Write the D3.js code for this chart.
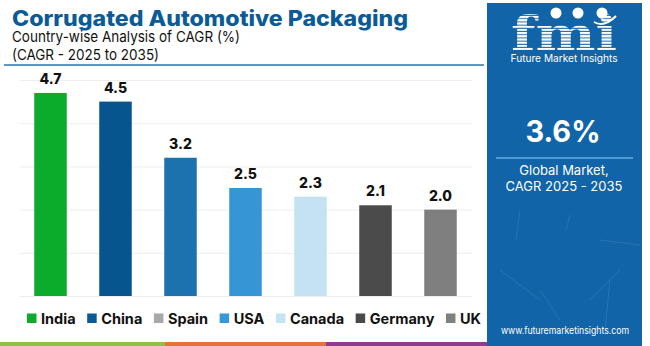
<!DOCTYPE html>
<html><head><meta charset="utf-8">
<script src="https://cdn.jsdelivr.net/npm/d3@7"></script>
<style>
html,body{margin:0;padding:0;background:#fff;}
svg{display:block;font-family:Inter, "Open Sans", sans-serif;}
</style></head>
<body><svg id="c" width="650" height="346"></svg>
<script>
const countries = ["India","China","Spain","USA","Canada","Germany","UK"];
const cagr = [4.7,4.5,3.2,2.5,2.3,2.1,2.0];
const barColors = ["#0bab2c","#06558f","#1b72ae","#3595d5","#c4e2f2","#4b4b4b","#7f7f7f"];
const legendColors = ["#0bab2c","#0a5a96","#a8a8a8","#3598d8","#c5e3f3","#4a4a4a","#808080"];
const yTicks = [1,2,3,4,5];
const titleText = "Corrugated Automotive Packaging";
const subtitle1 = "Country-wise Analysis of CAGR (%)";
const subtitle2 = "(CAGR - 2025 to 2035)";
const globalValue = "3.6%";
const globalLabel = ["Global Market,","CAGR 2025 - 2035"];

const svg = d3.select("#c");

// Title
svg.append("text").attr("x",12).attr("y",25.5)
  .attr("font-size",21).attr("font-weight",800).attr("fill","#0b5b97")
  .attr("textLength",396).attr("lengthAdjust","spacingAndGlyphs")
  .text(titleText);
svg.append("text").attr("x",12).attr("y",42).attr("font-size",15).attr("fill","#111")
  .attr("textLength",228).attr("lengthAdjust","spacingAndGlyphs").text(subtitle1);
svg.append("text").attr("x",12).attr("y",60).attr("font-size",15).attr("fill","#111")
  .attr("textLength",147).attr("lengthAdjust","spacingAndGlyphs").text(subtitle2);
svg.append("line").attr("x1",4).attr("x2",484).attr("y1",65).attr("y2",65)
  .attr("stroke","#2a73b0").attr("stroke-width",1.5);

// Scales
const x = d3.scaleBand().domain(countries).range([18,473]).paddingInner(0.5).paddingOuter(0.25);
const y = d3.scaleLinear().domain([0,5]).range([296,80]);

// gridlines
const yAxis = d3.axisLeft(y).tickValues(yTicks).tickSize(-452).tickFormat("");
const g = svg.append("g").attr("transform","translate(20,0)").call(yAxis);
g.select(".domain").remove();
g.selectAll(".tick line").attr("stroke","#eeeeee").attr("stroke-width",1);

// baseline axis
const xAxis = d3.axisBottom(x).tickSize(0).tickFormat("");
const xg = svg.append("g").attr("transform","translate(0,296.5)").call(xAxis);
xg.select(".domain").attr("d","M20,0H472").attr("stroke","#ececec");

// bars
svg.append("g").selectAll("rect").data(countries).join("rect")
  .attr("x",d=>x(d)).attr("width",x.bandwidth())
  .attr("y",(d,i)=>y(cagr[i])).attr("height",(d,i)=>y(0)-y(cagr[i]))
  .attr("fill",(d,i)=>barColors[i]);
svg.append("g").selectAll("text").data(countries).join("text")
  .attr("x",d=>x(d)+x.bandwidth()/2).attr("y",(d,i)=>y(cagr[i])-9)
  .attr("text-anchor","middle").attr("font-size",14).attr("font-weight",800).attr("fill","#111")
  .text((d,i)=>cagr[i].toFixed(1));

// legend
const lg = svg.append("g");
const items = lg.selectAll("g").data(countries).join("g");
items.append("rect").attr("width",9.5).attr("height",9.5).attr("y",313.5)
  .attr("fill",(d,i)=>legendColors[i]);
items.append("text").attr("x",14).attr("y",323.5).attr("font-size",14.5).attr("font-weight",700)
  .attr("fill","#111").text(d=>d);
const widths = [];
items.each(function(){ widths.push(14 + d3.select(this).select("text").node().getComputedTextLength()); });
const totalW = d3.sum(widths);
const gap = (481 - 27 - totalW)/(countries.length-1);
let cx = 27;
items.each(function(d,i){ d3.select(this).attr("transform",`translate(${cx},0)`); cx += widths[i]+gap; });

// bottom stripe
const stripe = [["#8bc34a",0,165],["#e8703a",165,326],["#8e3a96",326,487]];
svg.append("g").selectAll("rect").data(stripe).join("rect")
  .attr("x",d=>d[1]).attr("width",d=>d[2]-d[1]).attr("y",342).attr("height",4).attr("fill",d=>d[0]);

// right panel
const px = 487, pw = 155;
svg.append("rect").attr("x",px).attr("y",3).attr("width",pw).attr("height",343).attr("fill","#1264a8");
// faint texture lines
const tex = [[520,210,516,240],[570,215,566,230],[600,240,640,245],[500,270,540,300],[610,280,605,330],[540,290,560,320],[590,300,620,270]];
svg.append("g").selectAll("line").data(tex).join("line")
  .attr("x1",d=>d[0]).attr("y1",d=>d[1]).attr("x2",d=>d[2]).attr("y2",d=>d[3])
  .attr("stroke","#3b86c4").attr("stroke-width",0.8).attr("opacity",0.6);

// logo
const defs = svg.append("defs");
const pat = defs.append("pattern").attr("id","stripes").attr("patternUnits","userSpaceOnUse")
  .attr("width",4).attr("height",3.2);
pat.append("rect").attr("width",4).attr("height",2.2).attr("fill","#ffffff");
svg.append("text").attr("x",564).attr("y",50).attr("text-anchor","middle")
  .attr("font-family","DejaVu Serif, serif").attr("font-weight",700).attr("font-size",46)
  .attr("fill","url(#stripes)").attr("textLength",106).attr("lengthAdjust","spacingAndGlyphs").text("fmi");
[[556,13],[578,13],[602,13]].forEach(c=>{
  svg.append("circle").attr("cx",c[0]).attr("cy",c[1]).attr("r",5.5).attr("fill","#fff");
});
svg.append("path").attr("d","M594,22 Q604,28 616,16").attr("stroke","#fff").attr("stroke-width",2).attr("fill","none");
svg.append("text").attr("x",564).attr("y",62).attr("text-anchor","middle").attr("font-size",10.5)
  .attr("fill","#fff").attr("textLength",107).attr("lengthAdjust","spacingAndGlyphs").text("Future Market Insights");

svg.append("text").attr("x",563).attr("y",141.5).attr("text-anchor","middle").attr("font-size",30)
  .attr("font-weight",700).attr("fill","#fff").attr("textLength",75).attr("lengthAdjust","spacingAndGlyphs").text(globalValue);
svg.append("line").attr("x1",496).attr("x2",633).attr("y1",158).attr("y2",158).attr("stroke","#63aee6").attr("stroke-width",1.5);
svg.append("text").attr("x",564).attr("y",175).attr("text-anchor","middle").attr("font-size",13).attr("fill","#fff").text(globalLabel[0]);
svg.append("text").attr("x",564).attr("y",191).attr("text-anchor","middle").attr("font-size",13).attr("fill","#fff").text(globalLabel[1]);
svg.append("text").attr("x",565).attr("y",334).attr("text-anchor","middle").attr("font-size",10).attr("fill","#fff")
  .attr("textLength",128).attr("lengthAdjust","spacingAndGlyphs").text("www.futuremarketinsights.com");
</script></body></html>
